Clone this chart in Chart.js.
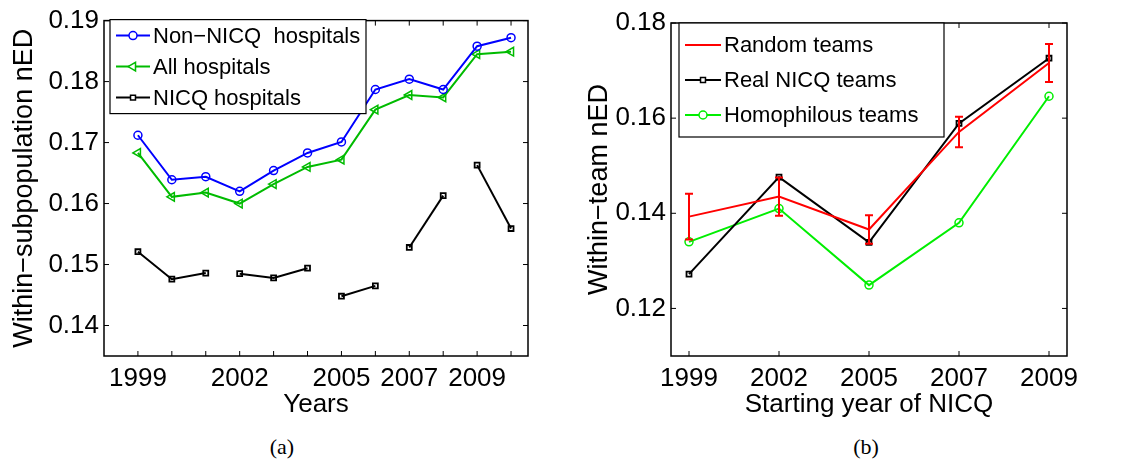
<!DOCTYPE html>
<html>
<head>
<meta charset="utf-8">
<script src="https://cdn.jsdelivr.net/npm/chart.js@4"></script>
<style>
  body { margin: 0; background: #fff; width: 1123px; height: 464px; position: relative; overflow: hidden; }
  .panel { position: absolute; top: 0; height: 420px; }
  #leftWrap { left: 0; width: 560px; }
  #rightWrap { left: 560px; width: 563px; }
  .caption { position: absolute; top: 434px; width: 60px; text-align: center;
             font: 22px "Liberation Serif", serif; color: #000; }
</style>
</head>
<body>
<div class="panel" id="leftWrap"><canvas id="leftChart" width="560" height="420"></canvas></div>
<div class="panel" id="rightWrap"><canvas id="rightChart" width="563" height="420"></canvas></div>
<div class="caption" style="left:252px">(a)</div>
<div class="caption" style="left:836px">(b)</div>
<script>
// ---- data, panel (a)
const years = [1999, 2000, 2001, 2002, 2003, 2004, 2005, 2006, 2007, 2008, 2009, 2010];
const labeledYears = [1999, 2002, 2005, 2007, 2009];
const nonNicq = [0.1712, 0.1639, 0.1644, 0.1620, 0.1654, 0.1683, 0.1701, 0.1787, 0.1804, 0.1787, 0.1858, 0.1872];
const allHosp = [0.1683, 0.1611, 0.1618, 0.1600, 0.1632, 0.1660, 0.1672, 0.1754, 0.1778, 0.1774, 0.1845, 0.1849];
const nicqHosp = [0.1521, 0.1476, 0.1486, 0.1485, 0.1478, 0.1494, 0.1448, 0.1465, 0.1528, 0.1613, 0.1663, 0.1559];
// cohort each NICQ point belongs to; lines only join points of the same cohort
const nicqCohort = [1999, 1999, 1999, 2002, 2002, 2002, 2005, 2005, 2007, 2007, 2009, 2009];
const leftTicksY = [0.14, 0.15, 0.16, 0.17, 0.18, 0.19];

// ---- data, panel (b)
const startYears = ['1999', '2002', '2005', '2007', '2009'];
const randomTeams = [0.1393, 0.1435, 0.1366, 0.1571, 0.1716];
const randomErr = [0.0048, 0.0040, 0.0030, 0.0032, 0.0040];
const realTeams = [0.1272, 0.1476, 0.1339, 0.1589, 0.1726];
const homoTeams = [0.1340, 0.1410, 0.1249, 0.1380, 0.1646];
const rightTicksY = [0.12, 0.14, 0.16, 0.18];

const FONT = '"Liberation Sans", Arial, sans-serif';
Chart.defaults.font.family = FONT;
Chart.defaults.color = '#000';
Chart.defaults.animation = false;

const xy = (xs, ys) => xs.map((x, i) => ({ x: x, y: ys[i] }));

// box round the plot plus inward tick marks on all four sides
const matlabBox = {
  id: 'matlabBox',
  afterDatasetsDraw(chart) {
    const { ctx, chartArea: a, scales } = chart;
    ctx.save();
    ctx.strokeStyle = '#000';
    ctx.lineWidth = 1.5;
    ctx.strokeRect(a.left, a.top, a.right - a.left, a.bottom - a.top);
    ctx.lineWidth = 1;
    ctx.beginPath();
    scales.x.ticks.forEach(t => {
      const px = scales.x.getPixelForValue(t.value);
      ctx.moveTo(px, a.bottom); ctx.lineTo(px, a.bottom - 5);
      ctx.moveTo(px, a.top); ctx.lineTo(px, a.top + 5);
    });
    scales.y.ticks.forEach(t => {
      const py = scales.y.getPixelForValue(t.value);
      ctx.moveTo(a.left, py); ctx.lineTo(a.left + 5, py);
      ctx.moveTo(a.right, py); ctx.lineTo(a.right - 5, py);
    });
    ctx.stroke();
    ctx.restore();
  }
};

// red error bars for the random teams
const errorBars = {
  id: 'errorBars',
  afterDatasetsDraw(chart) {
    if (chart.canvas.id !== 'rightChart') return;
    const { ctx, scales } = chart;
    ctx.save();
    ctx.strokeStyle = '#ff0000';
    ctx.lineWidth = 2;
    randomTeams.forEach((v, i) => {
      const px = scales.x.getPixelForValue(i);
      const top = scales.y.getPixelForValue(v + randomErr[i]);
      const bot = scales.y.getPixelForValue(v - randomErr[i]);
      ctx.beginPath();
      ctx.moveTo(px, top); ctx.lineTo(px, bot);
      ctx.moveTo(px - 4, top); ctx.lineTo(px + 4, top);
      ctx.moveTo(px - 4, bot); ctx.lineTo(px + 4, bot);
      ctx.stroke();
    });
    ctx.restore();
  }
};

// framed legend inside the plot, top-left
const boxLegend = {
  id: 'boxLegend',
  afterDraw(chart, args, opts) {
    const { ctx, chartArea: a } = chart;
    const x0 = a.left + opts.dx, y0 = a.top + opts.dy;
    ctx.save();
    ctx.fillStyle = '#fff';
    ctx.fillRect(x0, y0, opts.w, opts.h);
    ctx.strokeStyle = '#000';
    ctx.lineWidth = 1.2;
    ctx.strokeRect(x0, y0, opts.w, opts.h);
    ctx.font = '22px ' + FONT;
    ctx.textBaseline = 'middle';
    chart.data.datasets.forEach((ds, i) => {
      const y = y0 + opts.first + i * opts.gap;
      const lx0 = x0 + 6, lx1 = x0 + 6 + opts.line;
      ctx.strokeStyle = ds.borderColor;
      ctx.lineWidth = 2;
      ctx.beginPath(); ctx.moveTo(lx0, y); ctx.lineTo(lx1, y); ctx.stroke();
      if (ds.pointRadius > 0) {
        ctx.fillStyle = '#fff';
        ctx.lineWidth = 1.5;
        Chart.helpers.drawPoint(ctx, {
          pointStyle: ds.pointStyle, rotation: ds.pointRotation || 0,
          radius: ds.pointRadius, borderWidth: 1.5
        }, (lx0 + lx1) / 2, y);
      }
      ctx.fillStyle = '#000';
      ctx.fillText(ds.label, lx1 + 3, y + 1);
    });
    ctx.restore();
  }
};

function yAxis(min, max, tickVals, width, title, titlePad) {
  return {
    type: 'linear', min: min, max: max,
    afterBuildTicks: s => { s.ticks = tickVals.map(v => ({ value: v })); },
    afterFit: s => { s.width = width; },
    grid: { display: false, drawTicks: false }, border: { display: false },
    ticks: { font: { size: 26 }, padding: 5, callback: v => v.toFixed(2) },
    title: { display: true, text: title, font: { size: 27 }, padding: titlePad }
  };
}

function xAxis(min, max, tickVals, labelFn, title) {
  return {
    type: 'linear', min: min, max: max,
    afterBuildTicks: s => { s.ticks = tickVals.map(v => ({ value: v })); },
    afterFit: s => { s.height = 64; },
    grid: { display: false, drawTicks: false }, border: { display: false },
    ticks: { font: { size: 26 }, padding: 7, autoSkip: false, maxRotation: 0, callback: labelFn },
    title: { display: true, text: title, font: { size: 26 }, padding: { top: -8, bottom: 0 } }
  };
}

new Chart(document.getElementById('leftChart'), {
  type: 'line',
  data: {
    datasets: [
      { label: 'Non\u2212NICQ  hospitals', data: xy(years, nonNicq), borderColor: '#0000ff',
        borderWidth: 2, pointStyle: 'circle', pointRadius: 4, pointBorderWidth: 1.5,
        pointBackgroundColor: 'rgba(0,0,0,0)', pointBorderColor: '#0000ff' },
      { label: 'All hospitals', data: xy(years, allHosp), borderColor: '#00bb00',
        borderWidth: 2, pointStyle: 'triangle', pointRotation: -90, pointRadius: 5, pointBorderWidth: 1.5,
        pointBackgroundColor: 'rgba(0,0,0,0)', pointBorderColor: '#00bb00' },
      { label: 'NICQ hospitals', data: xy(years, nicqHosp), borderColor: '#000',
        borderWidth: 2, pointStyle: 'rect', pointRadius: 3.5, pointBorderWidth: 1.8,
        pointBackgroundColor: 'rgba(0,0,0,0)', pointBorderColor: '#000',
        segment: { borderColor: c => nicqCohort[c.p0DataIndex] === nicqCohort[c.p1DataIndex] ? '#000' : 'rgba(0,0,0,0)' } }
    ]
  },
  options: {
    responsive: false,
    layout: { padding: { left: 0, right: 32, top: 19, bottom: 0 } },
    plugins: {
      legend: { display: false }, tooltip: { enabled: false },
      boxLegend: { dx: 6, dy: -1, w: 256, h: 94, first: 16, gap: 31, line: 34 }
    },
    scales: {
      x: xAxis(1998, 2010.5, years, v => labeledYears.includes(v) ? String(v) : '', 'Years'),
      y: yAxis(0.135, 0.19, leftTicksY, 104, 'Within\u2212subpopulation nED', { top: 8, bottom: 4 })
    }
  },
  plugins: [matlabBox, boxLegend]
});

new Chart(document.getElementById('rightChart'), {
  type: 'line',
  data: {
    datasets: [
      { label: 'Random teams', data: xy(startYears.map((_, i) => i), randomTeams), borderColor: '#ff0000',
        borderWidth: 2, pointRadius: 0 },
      { label: 'Real NICQ teams', data: xy(startYears.map((_, i) => i), realTeams), borderColor: '#000',
        borderWidth: 2, pointStyle: 'rect', pointRadius: 3.5, pointBorderWidth: 1.8,
        pointBackgroundColor: 'rgba(0,0,0,0)', pointBorderColor: '#000' },
      { label: 'Homophilous teams', data: xy(startYears.map((_, i) => i), homoTeams), borderColor: '#00ee00',
        borderWidth: 2, pointStyle: 'circle', pointRadius: 4, pointBorderWidth: 1.5,
        pointBackgroundColor: 'rgba(0,0,0,0)', pointBorderColor: '#00ee00' }
    ]
  },
  options: {
    responsive: false,
    layout: { padding: { left: 0, right: 56, top: 23, bottom: 0 } },
    plugins: {
      legend: { display: false }, tooltip: { enabled: false },
      boxLegend: { dx: 8, dy: 0, w: 265, h: 114, first: 22, gap: 35, line: 36 }
    },
    scales: {
      x: xAxis(-0.2, 4.2, startYears.map((_, i) => i), v => startYears[v], 'Starting year of NICQ'),
      y: yAxis(0.11, 0.18, rightTicksY, 111, 'Within\u2212team nED', { top: 23, bottom: 4 })
    }
  },
  plugins: [matlabBox, errorBars, boxLegend]
});
</script>
</body>
</html>
